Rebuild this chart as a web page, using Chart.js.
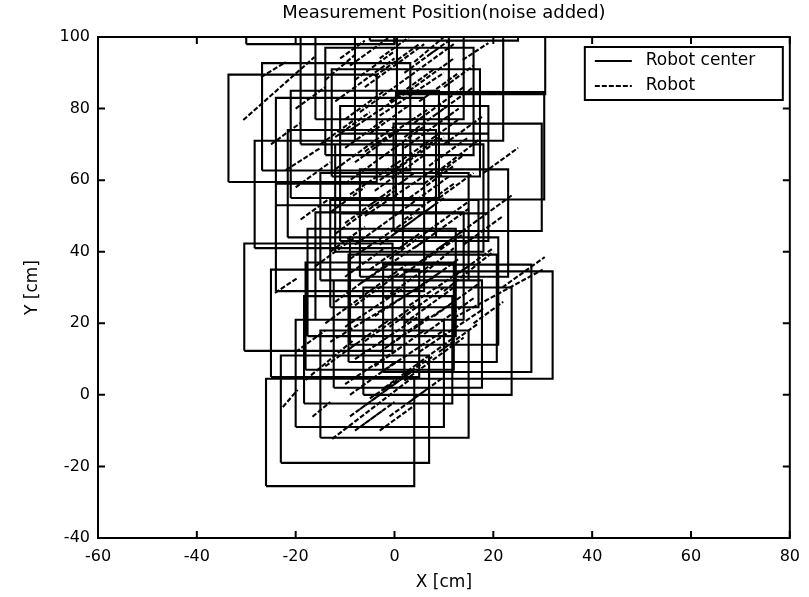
<!DOCTYPE html>
<html>
<head>
<meta charset="utf-8">
<script src="https://cdn.jsdelivr.net/npm/chart.js@4.4.1/dist/chart.umd.min.js"></script>
<style>
  html, body { margin: 0; padding: 0; background: #fff; }
</style>
</head>
<body>
<canvas id="chart" width="809" height="597"></canvas>
<script>
// robot outline centres (cm); every outline is a ROBOT_SIZE square
const boxX = [-11, -8, 0, -5, -3.3, 8.7, 2.7, -10, 12.7, 17, 5.7, -15.4, 6, -2.6, 2, -9, 0, 8, 3, -13.3,
  -6.6, 14.8, 4, -9, -6, 15.3, 2.3, -18.6, -11.8, -4, 7, -1, 15.5, -15, 10, -1, 4, -3, 1];
const boxY = [-10.5, -4, 3, 6, 12.6, 15, 17, 20, 21.4, 19.5, 24.2, 27.3, 29, 31.4, 39.5, 44, 47, 48, 55, 56,
  59, 60.8, 65.7, 68, 70, 69.6, 76, 74.5, 77.7, 85, 86, 92, 99, 113, 114, 36, 58, 22, 82];
const ROBOT_SIZE = 30;

// dashed diagonal segments, start and end (cm)
const segX0 = [-12.6, -16.6, -22.6, -18, -13, -9, -5, -10, -3, 2, -8, -2, 5, 12, 21.8, -10, -4, 3, -12, -7,
  1, -24.2, -9, -3, 4, -12, -6, 2, -19, -9, -3, 8.4, 9, -12, -6, 2, -22, -30.6, -9, -3,
  4, -12, -6, 1, -27, -9, -3, 4, -14, 10, 13.8, -14, -16, 10, 16, -6, -2, 6, -8, -15,
  -7, -1, -4, 4, -6, 6, -1, -8, 8, -2, -5, 5, -8, 0, 7, -5, 3, -10, 0, 6,
  -8, 2, -5, 8, -10, -1, 5, -8, 2, -11, 7, -13, -14, -20, -20, -25, -20, 14, 16, 18,
  -9, 3, -3, 9, -9, 2, -6, 4, -10, -1, 9, -10, 1, -4, 7, -10, -3, 4, -7, 3,
  -4, 10, -12, 12, -13, -3];
const segY0 = [-12.3, -6.1, -3.4, 4.2, 14.8, -6, -1, 3, 6, 4, 10, 13, 12, 21.5, 30, 19, 22, 25, 26, 31,
  33, 28.5, 38, 42, 41, 45, 50, 49, 49, 56, 60, 62, 55, 63, 68, 69, 62.8, 76.8, 74, 78,
  76, 82, 86, 87, 88.8, 92, 94, 93, 88, 70, 93.6, 20, 36, 29, 20, -8, 2, 34, -10, 70,
  -4, -6, 8, 8, 15, 17, 19, 25, 22, 27, 35, 37, 42, 45, 46, 53, 55, 59, 63, 59,
  65, 72, 73, 78, 77, 82, 82, 88, 90, 94, 95, 51, 8, 12, 58, 70, 80, 42, 48, 62,
  0, -2, 12, 12, 13, 20, 28, 29, 33, 38, 41, 48, 51, 57, 64, 69, 66, 68, 79, 85,
  89, 86, 72, 33, 40, -10];
const segX1 = [3.8, -13, -19.6, -8.2, 6, 4, 8, 2, 10, 14, 5, 12, 18, 30, 30.4, 2, 9, 15, -2, 6,
  14, -19.6, 4, 8, 15, 0, 8, 12, -13, 4, 10, 17, 16, 0, 7, 13, -15, -16.2, 4, 10,
  14, 0, 6, 12, -22, -1, 3, 10, -8, 18, 19, -6, -8, 20, 22, 0, 6, 12, -2, -8,
  3, 7, 6, 12, 4, 16, 10, 1, 17, 8, 5, 14, 1, 10, 15, 4, 12, -1, 9, 14,
  1, 11, 3, 16, -2, 8, 13, 0, 9, -6, 11, -6, -7, -14, -13, -19, -14, 22, 24, 25,
  0, 10, 7, 17, -1, 12, 3, 13, -2, 9, 17, -2, 11, 6, 15, -2, 6, 13, 2, 12,
  5, 16, -5, 20, -6, 4];
const segY1 = [5, -2, 1.4, 15.4, 31, 7, 11, 14, 18, 16, 22, 26, 24, 35, 38.5, 30, 34, 36, 36, 43,
  45, 32.7, 50, 53, 52, 57, 63, 59, 55, 68, 72, 71.2, 62, 75, 80, 80, 69, 94.4, 86, 90,
  86, 94, 98, 98, 93, 100, 100, 100, 95, 78, 98.3, 28, 44, 40, 26, -2, 10, 41, -4, 77,
  6, 2, 18, 16, 25, 27, 30, 34, 31, 37, 45, 46, 51, 55, 54, 62, 64, 68, 72, 67,
  74, 81, 81, 86, 85, 91, 90, 96, 97, 99, 99, 58, 15, 18, 65, 76, 86, 50, 56, 69,
  9, 5, 22, 20, 21, 30, 37, 38, 41, 48, 49, 56, 61, 67, 72, 77, 75, 77, 88, 94,
  98, 92, 79, 41, 47, -3];

const xTicks = [-60, -40, -20, 0, 20, 40, 60, 80];
const yTicks = [-40, -20, 0, 20, 40, 60, 80, 100];
const seriesNames = ['Robot center', 'Robot'];

const FONT = 'DejaVu Sans';

// outlines as closed polylines, split with null points
const half = ROBOT_SIZE / 2;
const boxPoints = [];
boxX.forEach((cx, i) => {
  const cy = boxY[i];
  boxPoints.push(
    { x: cx - half, y: cy - half }, { x: cx + half, y: cy - half },
    { x: cx + half, y: cy + half }, { x: cx - half, y: cy + half },
    { x: cx - half, y: cy - half }, { x: cx, y: null }
  );
});

const segPoints = [];
segX0.forEach((x0, i) => {
  segPoints.push({ x: x0, y: segY0[i] }, { x: segX1[i], y: segY1[i] }, { x: x0, y: null });
});

// matlab style box with inward ticks
const framePlugin = {
  id: 'frame',
  afterDatasetsDraw(chart) {
    const { ctx, chartArea: a, scales } = chart;
    ctx.save();
    ctx.strokeStyle = '#000';
    ctx.lineWidth = 2;
    ctx.strokeRect(a.left, a.top, a.right - a.left, a.bottom - a.top);
    ctx.beginPath();
    xTicks.forEach(v => {
      const px = scales.x.getPixelForValue(v);
      ctx.moveTo(px, a.bottom); ctx.lineTo(px, a.bottom - 7);
      ctx.moveTo(px, a.top); ctx.lineTo(px, a.top + 7);
    });
    yTicks.forEach(v => {
      const py = scales.y.getPixelForValue(v);
      ctx.moveTo(a.left, py); ctx.lineTo(a.left + 7, py);
      ctx.moveTo(a.right, py); ctx.lineTo(a.right - 7, py);
    });
    ctx.stroke();
    ctx.restore();
  }
};

// legend box inside the top right corner
const legendPlugin = {
  id: 'insideLegend',
  afterDraw(chart) {
    const { ctx, chartArea: a } = chart;
    const left = a.right - 205, top = a.top + 10, w = 198, h = 53;
    ctx.save();
    ctx.fillStyle = '#fff';
    ctx.fillRect(left, top, w, h);
    ctx.strokeStyle = '#000';
    ctx.lineWidth = 2;
    ctx.strokeRect(left, top, w, h);
    ctx.font = '17px "' + FONT + '"';
    ctx.fillStyle = '#000';
    ctx.textBaseline = 'middle';
    chart.data.datasets.forEach((ds, i) => {
      const y = top + 14 + i * 25;
      ctx.beginPath();
      ctx.setLineDash(ds.borderDash || []);
      ctx.lineWidth = 1.8;
      ctx.moveTo(left + 10, y);
      ctx.lineTo(left + 47, y);
      ctx.stroke();
      ctx.setLineDash([]);
      ctx.fillText(ds.label, left + 61, y);
    });
    ctx.restore();
  }
};

new Chart(document.getElementById('chart'), {
  type: 'scatter',
  data: {
    datasets: [
      {
        label: seriesNames[0],
        data: boxPoints,
        showLine: true,
        borderColor: '#000',
        borderWidth: 2.1,
        pointRadius: 0
      },
      {
        label: seriesNames[1],
        data: segPoints,
        showLine: true,
        borderColor: '#000',
        borderWidth: 2.1,
        borderDash: [5, 2],
        pointRadius: 0
      }
    ]
  },
  options: {
    responsive: false,
    animation: false,
    devicePixelRatio: 1,
    layout: { padding: { top: 0, right: 11, bottom: 0, left: 0 } },
    plugins: {
      legend: { display: false },
      tooltip: { enabled: false },
      title: {
        display: true,
        fullSize: false,
        text: 'Measurement Position(noise added)',
        color: '#000',
        font: { family: FONT, size: 18, weight: 'normal' },
        padding: { top: 3, bottom: 12.4 }
      }
    },
    scales: {
      x: {
        type: 'linear',
        min: -60,
        max: 80,
        afterBuildTicks: s => { s.ticks = xTicks.map(v => ({ value: v })); },
        afterFit: s => { s.height = 59; },
        grid: { display: false, drawTicks: false },
        border: { display: false },
        ticks: { color: '#000', padding: 9, font: { family: FONT, size: 16 } },
        title: {
          display: true,
          text: 'X [cm]',
          color: '#000',
          font: { family: FONT, size: 17 },
          padding: { top: 0, bottom: 4 }
        }
      },
      y: {
        type: 'linear',
        min: -40,
        max: 100,
        afterBuildTicks: s => { s.ticks = yTicks.map(v => ({ value: v })); },
        afterFit: s => { s.width = 98; },
        grid: { display: false, drawTicks: false },
        border: { display: false },
        ticks: { color: '#000', padding: 8, font: { family: FONT, size: 16 } },
        title: {
          display: true,
          text: 'Y [cm]',
          color: '#000',
          font: { family: FONT, size: 17 },
          padding: { top: 22, bottom: 0 }
        }
      }
    }
  },
  plugins: [framePlugin, legendPlugin]
});
</script>
</body>
</html>
